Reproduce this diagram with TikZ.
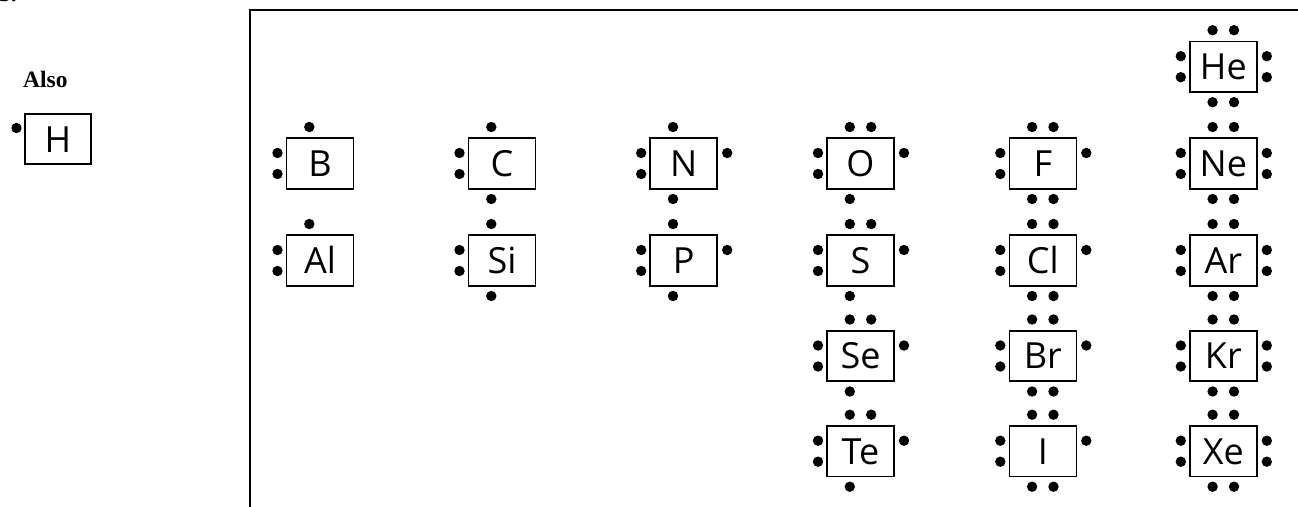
\documentclass[tikz,border=0pt]{standalone}
\usepackage{fontspec}
\usetikzlibrary{calc}
\newfontfamily\symfont{Open Sans}
\newfontfamily\labfont{Liberation Serif}

% Lewis dot layouts: offsets from the box centre (x right, y down)
\def\dotsThree{-10.7/-36.5, -42.5/-10.5, -42.5/10.5}
\def\dotsFour{-10.7/-36.5, -42.5/-10.5, -42.5/10.5, -10.7/35.5}
\def\dotsFive{-10.7/-36.5, -42.5/-10.5, -42.5/10.5, 43.5/-10.5, -10.7/35.5}
\def\dotsSix{-10.7/-36.5, 10.7/-36.5, -42.5/-10.5, -42.5/10.5, 43.5/-10.5, -10.7/35.5}
\def\dotsSeven{-10.7/-36.5, 10.7/-36.5, -42.5/-10.5, -42.5/10.5, 43.5/-10.5, -10.7/35.5, 10.7/35.5}
\def\dotsEight{-10.7/-36.5, 10.7/-36.5, -42.5/-10.5, -42.5/10.5, 43.5/-10.5, 43.5/10.5, -10.7/35.5, 10.7/35.5}

% one element: box, symbol and its valence dots
\newcommand\lewisel[5]{%
  \node[elbox] (#1) at (#2,#3) {};
  \node[elsym] (#1-sym) at ($(#1.center)+(0,12.8)$) {#4};
  \foreach \dx/\dy in #5 {\fill ($(#1.center)+(\dx,\dy)$) circle (5.2pt);}
}

\begin{document}
\begin{tikzpicture}[x=1pt,y=-1pt,
  elbox/.style={draw, line width=1.6pt, minimum width=67pt, minimum height=50.5pt, inner sep=0pt},
  elsym/.style={anchor=base, inner sep=0pt, font=\symfont\fontsize{36}{36}\selectfont},
  heading/.style={anchor=base west, inner sep=0pt, font=\labfont\bfseries\fontsize{23.5}{24}\selectfont},
  frameline/.style={line width=2pt}]
\useasboundingbox (0,0) rectangle (1298,506);

% question number (mostly above the page) and side note
\node[heading] (qnum) at (-1,1.5) {3.};
\node[heading] (also) at (23,87) {Also};

% hydrogen, one dot on the left
\node[elbox, minimum width=66pt, minimum height=50pt] (H) at (58,139) {};
\node[elsym] (H-sym) at ($(H.center)+(0,13)$) {H};
\fill ($(H.center)+(-41.5,-11)$) circle (5.2pt);

% frame around the main groups
\coordinate (fbl) at (249.5,530);
\coordinate (ftr) at (1320,10);
\draw[frameline] (fbl) |- (ftr);

% group 13
\lewisel{B}{320}{163.5}{B}{\dotsThree}
\lewisel{Al}{320}{260.5}{Al}{\dotsThree}
% group 14
\lewisel{C}{502}{163.5}{C}{\dotsFour}
\lewisel{Si}{502}{260.5}{Si}{\dotsFour}
% group 15
\lewisel{N}{683.7}{163.5}{N}{\dotsFive}
\lewisel{P}{683.7}{260.5}{P}{\dotsFive}
% group 16
\lewisel{O}{860.5}{163.5}{O}{\dotsSix}
\lewisel{S}{860.5}{260.5}{S}{\dotsSix}
\lewisel{Se}{860.5}{356}{Se}{\dotsSix}
\lewisel{Te}{860.5}{451.2}{Te}{\dotsSix}
% group 17
\lewisel{F}{1042.8}{163.5}{F}{\dotsSeven}
\lewisel{Cl}{1042.8}{260.5}{Cl}{\dotsSeven}
\lewisel{Br}{1042.8}{356}{Br}{\dotsSeven}
\lewisel{I}{1042.8}{451.2}{I}{\dotsSeven}
% group 18
\lewisel{He}{1223.3}{66.7}{He}{\dotsEight}
\lewisel{Ne}{1223.3}{163.5}{Ne}{\dotsEight}
\lewisel{Ar}{1223.3}{260.5}{Ar}{\dotsEight}
\lewisel{Kr}{1223.3}{356}{Kr}{\dotsEight}
\lewisel{Xe}{1223.3}{451.2}{Xe}{\dotsEight}
\end{tikzpicture}
\end{document}
